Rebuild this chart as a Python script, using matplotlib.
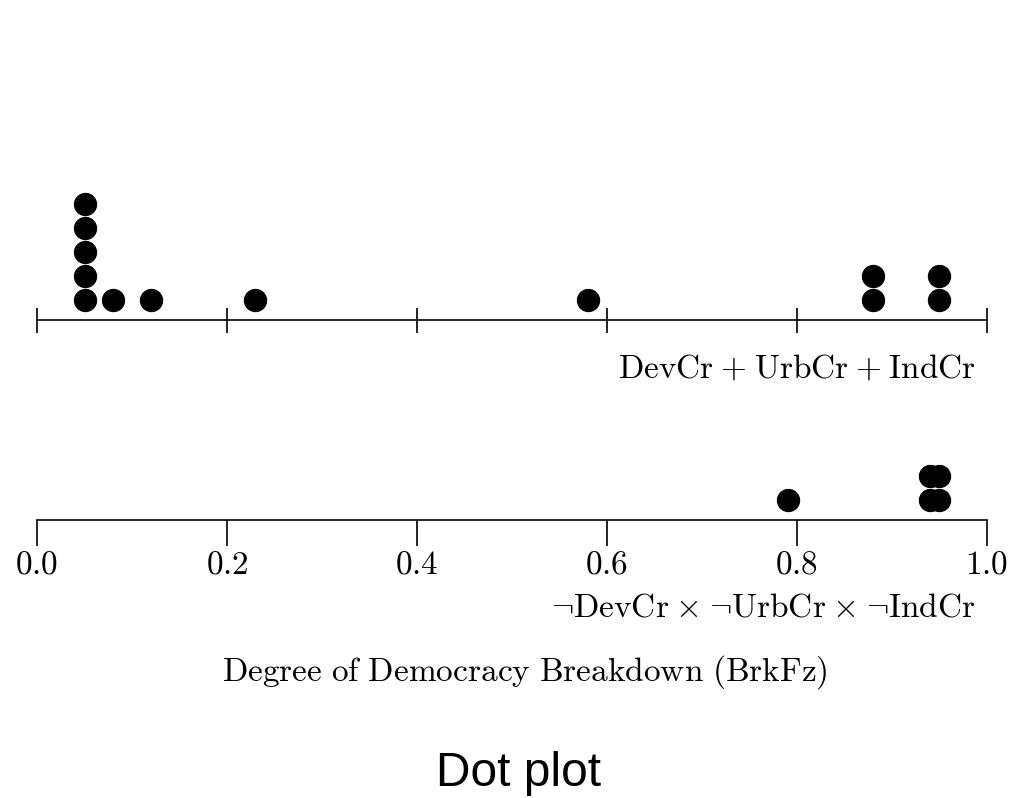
import numpy as np
import matplotlib
matplotlib.use("Agg")
import matplotlib.pyplot as plt

plt.rcParams['mathtext.fontset'] = 'cm'

# data: breakdown scores of cases in each configuration
top_vals = [0.05, 0.05, 0.05, 0.05, 0.05, 0.08, 0.12, 0.23, 0.58, 0.88, 0.88, 0.95, 0.95]
bot_vals = [0.79, 0.94, 0.94, 0.95, 0.95]
sp = r'\hspace{0.06}'
top_label = r'$\mathrm{DevCr}' + sp + '+' + sp + r'\mathrm{UrbCr}' + sp + '+' + sp + r'\mathrm{IndCr}$'
bot_label = (r'$\neg\mathrm{DevCr}' + sp + r'\times' + sp + r'\neg\mathrm{UrbCr}' + sp
             + r'\times' + sp + r'\neg\mathrm{IndCr}$')
xlabel = r'$\mathrm{Degree\ of\ Democracy\ Breakdown\ (BrkFz)}$'
ticks = [0.0, 0.2, 0.4, 0.6, 0.8, 1.0]
tick_labels = ['$0.0$', '$0.2$', '$0.4$', '$0.6$', '$0.8$', '$1.0$']


def stack(vals):
    # stack level for repeated values
    seen = {}
    lev = []
    for v in vals:
        lev.append(seen.get(v, 0))
        seen[v] = seen.get(v, 0) + 1
    return np.array(lev)


W, H = 1032, 798
fig = plt.figure(figsize=(W / 100, H / 100), dpi=100)
spacing = 24  # px between stacked dots
axh = 140
fs = 24

def make_ax(spine_y):
    ax = fig.add_axes([37 / W, (H - spine_y) / H, 950 / W, axh / H])
    ax.set_xlim(0, 1)
    ax.set_ylim(-20 / spacing, (axh - 20) / spacing)
    for s in ['top', 'left', 'right']:
        ax.spines[s].set_visible(False)
    ax.spines['bottom'].set_linewidth(1.2)
    ax.set_yticks([])
    ax.set_xticks(ticks)
    ax.patch.set_visible(False)
    return ax

ax1 = make_ax(320)
ax1.plot(top_vals, stack(top_vals), 'o', color='black', markersize=15.8, clip_on=False)
ax1.tick_params(axis='x', direction='inout', length=18, width=1.2, labelbottom=False)
ax1.text(0.988, -2.83, top_label, ha='right', va='center', fontsize=fs)

ax2 = make_ax(520)
ax2.plot(bot_vals, stack(bot_vals), 'o', color='black', markersize=15.8, clip_on=False)
ax2.tick_params(axis='x', direction='out', length=19, width=1.2, pad=0.5)
ax2.set_xticklabels(tick_labels, fontsize=fs)
ax2.text(0.988, -4.46, bot_label, ha='right', va='center', fontsize=fs)

fig.text(525 / W, (H - 672) / H, xlabel, ha='center', va='center', fontsize=fs)
fig.text(519 / W, (H - 773) / H, 'Dot plot', ha='center', va='center', fontsize=34.5,
         family='Liberation Sans')

fig.savefig('out.png', dpi=100)
